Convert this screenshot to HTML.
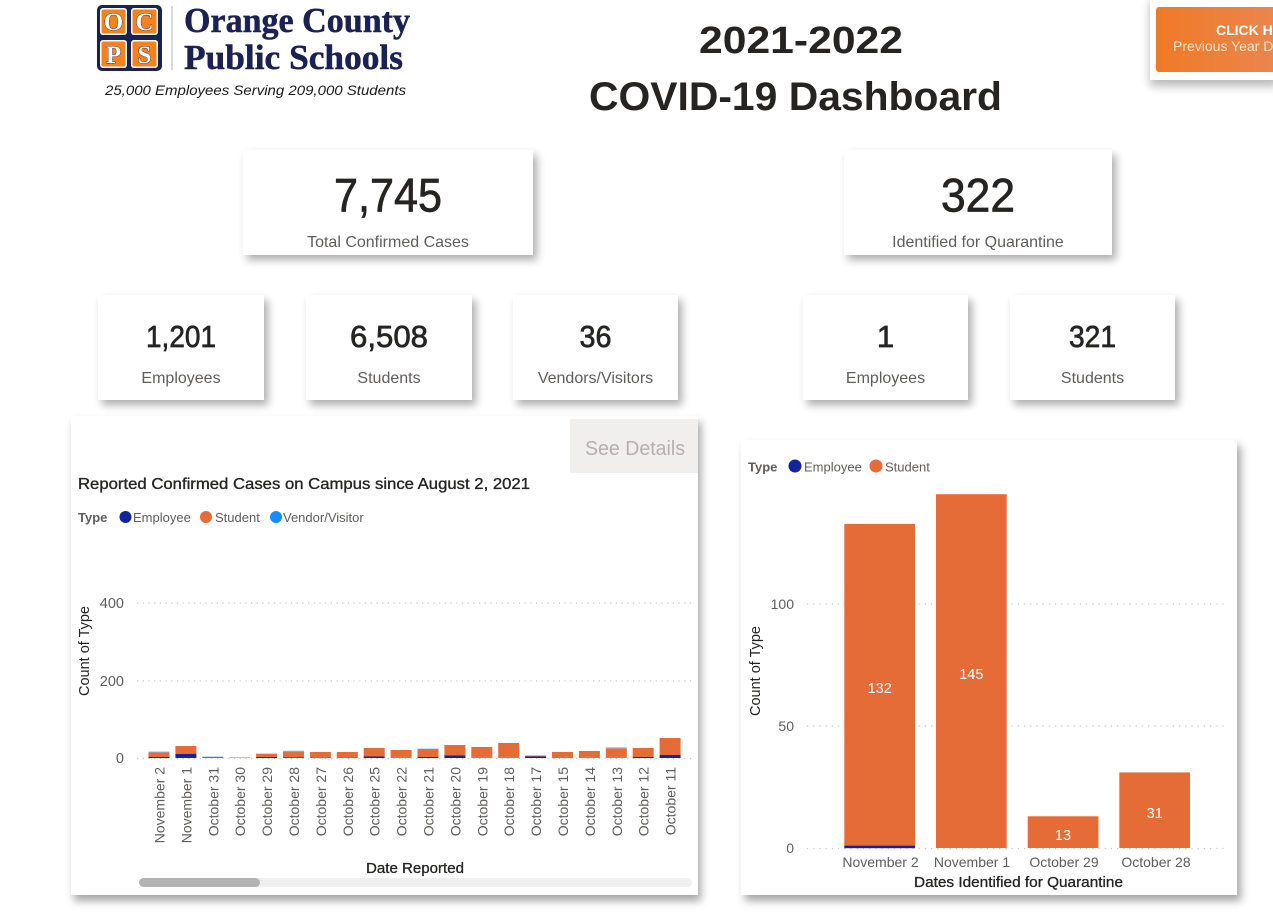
<!DOCTYPE html>
<html><head><meta charset="utf-8"><style>
html,body{margin:0;padding:0;background:#fff;}
body{width:1273px;height:914px;position:relative;overflow:hidden;font-family:"Liberation Sans",sans-serif;}
.card{position:absolute;background:#fff;box-shadow:4px 5px 8px rgba(0,0,0,0.32);}
svg{position:absolute;left:0;top:0;}
</style></head><body>
<div class="card" style="left:1150px;top:-5px;width:130px;height:85px;box-shadow:0 6px 9px rgba(0,0,0,0.28);"></div>
<div class="card" style="left:243px;top:150px;width:290px;height:105px;"></div>
<div class="card" style="left:844px;top:150px;width:268px;height:105px;"></div>
<div class="card" style="left:98px;top:295px;width:166px;height:105px;"></div>
<div class="card" style="left:306px;top:295px;width:166px;height:105px;"></div>
<div class="card" style="left:513px;top:295px;width:165px;height:105px;"></div>
<div class="card" style="left:803px;top:295px;width:165px;height:105px;"></div>
<div class="card" style="left:1010px;top:295px;width:165px;height:105px;"></div>
<div class="card" style="left:71px;top:416px;width:627px;height:479px;box-shadow:3px 6px 8px rgba(0,0,0,0.35);"></div>
<div class="card" style="left:741px;top:440px;width:496px;height:455px;box-shadow:4px 6px 8px rgba(0,0,0,0.35);"></div>

<svg width="1273" height="914" viewBox="0 0 1273 914" xmlns="http://www.w3.org/2000/svg">
<defs>
<linearGradient id="og" x1="0" x2="1" y1="0" y2="0"><stop offset="0" stop-color="#f07a26"/><stop offset="1" stop-color="#ea8650"/></linearGradient>
</defs>
<!-- Logo -->
<rect x="97" y="5" width="65" height="66" rx="5" fill="#1b2152"/>
<rect x="100" y="8" width="27" height="27" rx="3" fill="#fff"/><rect x="101.5" y="9.5" width="24" height="24" rx="2" fill="#f5821f"/>
<rect x="131" y="8" width="27" height="27" rx="3" fill="#fff"/><rect x="132.5" y="9.5" width="24" height="24" rx="2" fill="#f5821f"/>
<rect x="100" y="40" width="27" height="28" rx="3" fill="#fff"/><rect x="101.5" y="41.5" width="24" height="25" rx="2" fill="#f5821f"/>
<rect x="131" y="40" width="27" height="28" rx="3" fill="#fff"/><rect x="132.5" y="41.5" width="24" height="25" rx="2" fill="#f5821f"/>
<g font-family="Liberation Serif, serif" font-weight="bold" font-size="25" fill="#fff" stroke="#1b2152" stroke-width="0.8" paint-order="stroke" text-anchor="middle">
<text x="113.5" y="30">O</text><text x="144.5" y="30">C</text><text x="113.5" y="63">P</text><text x="144.5" y="63">S</text>
</g>
<line x1="172" y1="6" x2="172" y2="70" stroke="#b0b0b0" stroke-width="1"/>
<g font-family="Liberation Serif, serif" font-weight="bold" fill="#1b2152" stroke="#1b2152" stroke-width="0.5">
<text x="184" y="32" font-size="35" textLength="226" lengthAdjust="spacingAndGlyphs">Orange County</text>
<text x="184" y="69" font-size="35" textLength="219" lengthAdjust="spacingAndGlyphs">Public Schools</text>
</g>
<text x="105" y="95" font-size="14" font-style="italic" fill="#1a1a1a" textLength="301" lengthAdjust="spacingAndGlyphs">25,000 Employees Serving 209,000 Students</text>

<!-- Title -->
<g font-weight="bold" fill="#252423">
<text x="699" y="53" font-size="38" textLength="204" lengthAdjust="spacingAndGlyphs">2021-2022</text>
<text x="589" y="110" font-size="40" textLength="413" lengthAdjust="spacingAndGlyphs">COVID-19 Dashboard</text>
</g>

<!-- Click here button -->
<rect x="1156" y="7" width="125" height="65" rx="3" fill="url(#og)"/>
<text x="1216" y="35" font-size="14" font-weight="bold" fill="#fff">CLICK HERE</text>
<text x="1173" y="51" font-size="14" fill="#fde2cc">Previous Year Data</text>

<!-- KPI -->
<g fill="#252423" stroke="#252423" stroke-width="0.7" text-anchor="middle">
<text x="388" y="211.5" font-size="47" textLength="108" lengthAdjust="spacingAndGlyphs">7,745</text>
<text x="978" y="211.5" font-size="47" textLength="74" lengthAdjust="spacingAndGlyphs">322</text>
<text x="181" y="347" font-size="31" textLength="70" lengthAdjust="spacingAndGlyphs">1,201</text>
<text x="389" y="347" font-size="31" textLength="78" lengthAdjust="spacingAndGlyphs">6,508</text>
<text x="595.5" y="347" font-size="31" textLength="32" lengthAdjust="spacingAndGlyphs">36</text>
<text x="885.5" y="347" font-size="31">1</text>
<text x="1092.5" y="347" font-size="31" textLength="47" lengthAdjust="spacingAndGlyphs">321</text>
</g>
<g fill="#605e5c" text-anchor="middle" font-size="16">
<text x="388" y="247">Total Confirmed Cases</text>
<text x="978" y="247">Identified for Quarantine</text>
<text x="181" y="383">Employees</text>
<text x="389" y="383">Students</text>
<text x="595.5" y="383">Vendors/Visitors</text>
<text x="885.5" y="383">Employees</text>
<text x="1092.5" y="383">Students</text>
</g>

<!-- Left chart -->
<rect x="570" y="419" width="128" height="54" fill="#f0efee"/>
<text x="585" y="455" font-size="20" fill="#b3b0ad" textLength="100" lengthAdjust="spacingAndGlyphs">See Details</text>
<text x="78" y="489" font-size="16" fill="#252423" stroke="#252423" stroke-width="0.35" textLength="452" lengthAdjust="spacingAndGlyphs">Reported Confirmed Cases on Campus since August 2, 2021</text>
<g font-size="13" fill="#605e5c">
<text x="78" y="522" font-weight="bold">Type</text>
<circle cx="125.5" cy="517" r="6" fill="#12239e"/><text x="133" y="522">Employee</text>
<circle cx="206" cy="517" r="6" fill="#e66c37"/><text x="215" y="522">Student</text>
<circle cx="276" cy="517" r="6" fill="#118dff"/><text x="283" y="522">Vendor/Visitor</text>
</g>
<g stroke="#c8c8c8" stroke-width="1.2" stroke-dasharray="1.2 4.5">
<line x1="137" y1="603" x2="692" y2="603"/><line x1="137" y1="681" x2="692" y2="681"/><line x1="137" y1="758.5" x2="692" y2="758.5"/>
</g>
<g font-size="14.5" fill="#605e5c" text-anchor="end">
<text x="124" y="608">400</text><text x="124" y="686">200</text><text x="124" y="763">0</text>
</g>
<text transform="translate(89,651) rotate(-90)" text-anchor="middle" font-size="14.5" fill="#252423">Count of Type</text>
<!-- bars -->
<g>
<rect x="148.5" y="757" width="21" height="1" fill="#12239e"/><rect x="148.5" y="752.5" width="21" height="4.5" fill="#e66c37"/><rect x="148.5" y="751.5" width="21" height="1" fill="#8fb8f0"/>
<rect x="175.4" y="754" width="21" height="4" fill="#12239e"/><rect x="175.4" y="746" width="21" height="8" fill="#e66c37"/>
<rect x="202.3" y="757" width="21" height="1" fill="#5a6fd0"/><rect x="202.3" y="756.4" width="21" height="0.6" fill="#9cc4f5"/>
<rect x="229.2" y="757" width="21" height="1" fill="#f3b59a"/>
<rect x="256.1" y="757" width="21" height="1" fill="#12239e"/><rect x="256.1" y="753.7" width="21" height="3.3" fill="#e66c37"/>
<rect x="283" y="757.5" width="21" height="0.5" fill="#12239e"/><rect x="283" y="751.5" width="21" height="6" fill="#e66c37"/><rect x="283" y="750.7" width="21" height="0.8" fill="#9cc4f5"/>
<rect x="309.9" y="757" width="21" height="1" fill="#6a7bd0"/><rect x="309.9" y="752" width="21" height="5" fill="#e66c37"/>
<rect x="336.8" y="757" width="21" height="1" fill="#6a7bd0"/><rect x="336.8" y="752" width="21" height="5" fill="#e66c37"/>
<rect x="363.7" y="756.5" width="21" height="1.5" fill="#12239e"/><rect x="363.7" y="748" width="21" height="8.5" fill="#e66c37"/>
<rect x="390.6" y="757.3" width="21" height="0.7" fill="#6a7bd0"/><rect x="390.6" y="750" width="21" height="7.3" fill="#e66c37"/>
<rect x="417.5" y="757" width="21" height="1" fill="#12239e"/><rect x="417.5" y="749" width="21" height="8" fill="#e66c37"/><rect x="417.5" y="748.5" width="21" height="0.5" fill="#9cc4f5"/>
<rect x="444.4" y="755.5" width="21" height="2.5" fill="#12239e"/><rect x="444.4" y="745" width="21" height="10.5" fill="#e66c37"/>
<rect x="471.3" y="757.3" width="21" height="0.7" fill="#6a7bd0"/><rect x="471.3" y="747" width="21" height="10.3" fill="#e66c37"/>
<rect x="498.2" y="757.3" width="21" height="0.7" fill="#6a7bd0"/><rect x="498.2" y="743" width="21" height="14.3" fill="#e66c37"/>
<rect x="525.1" y="756.5" width="21" height="1.5" fill="#12239e"/><rect x="525.1" y="755.5" width="21" height="1" fill="#e66c37"/>
<rect x="552" y="752" width="21" height="6" fill="#e66c37"/>
<rect x="578.9" y="757.3" width="21" height="0.7" fill="#6a7bd0"/><rect x="578.9" y="751" width="21" height="6.3" fill="#e66c37"/>
<rect x="605.8" y="757.3" width="21" height="0.7" fill="#6a7bd0"/><rect x="605.8" y="748.3" width="21" height="9" fill="#e66c37"/><rect x="605.8" y="747.3" width="21" height="1" fill="#8fb8f0"/>
<rect x="632.7" y="757" width="21" height="1" fill="#12239e"/><rect x="632.7" y="748" width="21" height="9" fill="#e66c37"/>
<rect x="659.6" y="755" width="21" height="3" fill="#12239e"/><rect x="659.6" y="738" width="21" height="17" fill="#e66c37"/>
</g>
<g font-size="14" fill="#605e5c" text-anchor="end">
<text transform="translate(164.5,767) rotate(-90)">November 2</text>
<text transform="translate(191.4,767) rotate(-90)">November 1</text>
<text transform="translate(218.3,767) rotate(-90)">October 31</text>
<text transform="translate(245.2,767) rotate(-90)">October 30</text>
<text transform="translate(272.1,767) rotate(-90)">October 29</text>
<text transform="translate(299,767) rotate(-90)">October 28</text>
<text transform="translate(325.9,767) rotate(-90)">October 27</text>
<text transform="translate(352.8,767) rotate(-90)">October 26</text>
<text transform="translate(379.7,767) rotate(-90)">October 25</text>
<text transform="translate(406.6,767) rotate(-90)">October 22</text>
<text transform="translate(433.5,767) rotate(-90)">October 21</text>
<text transform="translate(460.4,767) rotate(-90)">October 20</text>
<text transform="translate(487.3,767) rotate(-90)">October 19</text>
<text transform="translate(514.2,767) rotate(-90)">October 18</text>
<text transform="translate(541.1,767) rotate(-90)">October 17</text>
<text transform="translate(568,767) rotate(-90)">October 15</text>
<text transform="translate(594.9,767) rotate(-90)">October 14</text>
<text transform="translate(621.8,767) rotate(-90)">October 13</text>
<text transform="translate(648.7,767) rotate(-90)">October 12</text>
<text transform="translate(675.6,767) rotate(-90)">October 11</text>
</g>
<text x="366" y="873" font-size="15" fill="#252423" stroke="#252423" stroke-width="0.3" textLength="98" lengthAdjust="spacingAndGlyphs">Date Reported</text>
<rect x="139" y="878" width="553" height="9" rx="4.5" fill="#efefef"/>
<rect x="139" y="878" width="121" height="9" rx="4.5" fill="#b3b3b3"/>

<!-- Right chart -->
<g font-size="13" fill="#605e5c">
<text x="748" y="471.5" font-weight="bold">Type</text>
<circle cx="795" cy="466" r="6.5" fill="#12239e"/><text x="804" y="471.5">Employee</text>
<circle cx="876" cy="466" r="6.5" fill="#e66c37"/><text x="885" y="471.5">Student</text>
</g>
<g stroke="#c8c8c8" stroke-width="1.2" stroke-dasharray="1.2 5">
<line x1="807" y1="604" x2="1228" y2="604"/><line x1="807" y1="726" x2="1228" y2="726"/><line x1="807" y1="848.5" x2="1228" y2="848.5"/>
</g>
<g font-size="14" fill="#605e5c" text-anchor="end">
<text x="794" y="609">100</text><text x="794" y="731">50</text><text x="794" y="853">0</text>
</g>
<text transform="translate(760,671) rotate(-90)" text-anchor="middle" font-size="14.5" fill="#252423">Count of Type</text>
<rect x="844.3" y="523.9" width="70.7" height="321.7" fill="#e66c37"/>
<rect x="844.3" y="845.6" width="70.7" height="2.6" fill="#12239e"/>
<rect x="936" y="494.2" width="70.7" height="353.8" fill="#e66c37"/>
<rect x="1027.7" y="816.3" width="70.7" height="31.7" fill="#e66c37"/>
<rect x="1119.3" y="772.4" width="70.7" height="75.6" fill="#e66c37"/>
<g font-size="14.5" fill="#fff" text-anchor="middle">
<text x="879.7" y="693">132</text><text x="971.3" y="679">145</text><text x="1063" y="840">13</text><text x="1154.7" y="818">31</text>
</g>
<g font-size="14" fill="#605e5c" text-anchor="middle">
<text x="880.5" y="867">November 2</text><text x="972" y="867">November 1</text><text x="1064" y="867">October 29</text><text x="1156" y="867">October 28</text>
</g>
<text x="914" y="887" font-size="15" fill="#252423" stroke="#252423" stroke-width="0.3" textLength="209" lengthAdjust="spacingAndGlyphs">Dates Identified for Quarantine</text>
</svg>
</body></html>
